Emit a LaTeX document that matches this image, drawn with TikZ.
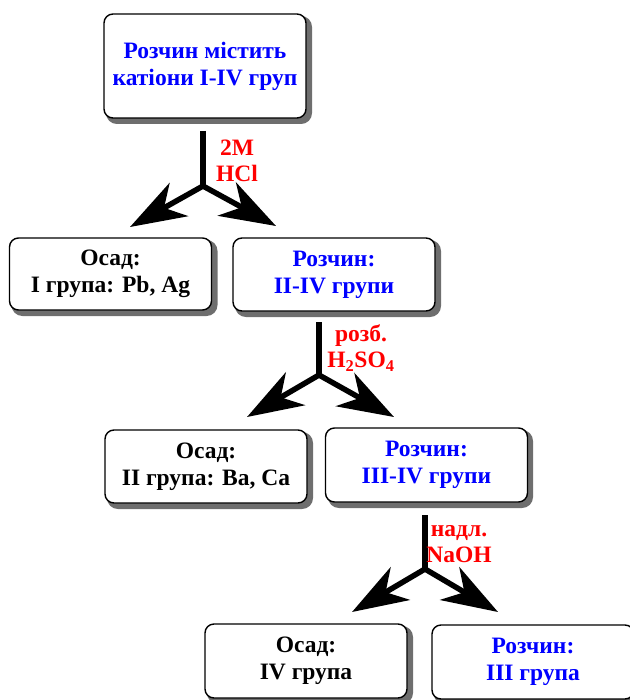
\documentclass[tikz,border=0pt]{standalone}
\usepackage{fontspec}
\setmainfont{Liberation Serif}
\usetikzlibrary{arrows.meta}
\definecolor{shadowgray}{RGB}{110,110,110}
\begin{document}
\begin{tikzpicture}[x=1pt,y=-1pt,
  box/.style={draw=black, line width=1.4pt, rounded corners=9pt, fill=white,
    minimum width=202pt, inner sep=0pt, align=center,
    font=\fontsize{23.5}{27}\selectfont\bfseries},
  sol/.style={box, text=blue},
  prec/.style={box, text=black},
  shadowbox/.style={line width=4pt, draw=shadowgray, fill=shadowgray, rounded corners=9pt},
  reag/.style={align=center, text=red, font=\fontsize{23.5}{26}\selectfont\bfseries, inner sep=0pt},
  shaft/.style={line width=5.5pt, draw=black},
  branch/.style={line width=5.5pt, draw=black, -{Stealth[length=56pt, width=38pt, inset=17pt]}}
]
\path[use as bounding box] (0,0) rectangle (629,700);

% shadows
\path[shadowbox] (108,18) rectangle (310,122);
\path[shadowbox] (13.5,242) rectangle (215.5,314);
\path[shadowbox] (237,242) rectangle (439,315);
\path[shadowbox] (109,434) rectangle (311,507);
\path[shadowbox] (330,432) rectangle (531,506);
\path[shadowbox] (209,628) rectangle (411,702);
\path[shadowbox] (436,629) rectangle (638,703);

% boxes
\node[sol, minimum height=104pt] (b1) at (205,66) {Розчин містить\\катіони I-IV груп};
\node[prec, minimum height=72pt] (b2) at (110.5,274) {Осад:\\I група: Pb, Ag};
\node[sol, minimum height=73pt] (b3) at (334,274.5) {Розчин:\\II-IV групи};
\node[prec, minimum height=73pt] (b4) at (206,466.5) {Осад:\\II група: Ba, Ca};
\node[sol, minimum height=74pt] (b5) at (426.5,465) {Розчин:\\III-IV групи};
\node[prec, minimum height=74pt] (b6) at (306,661) {Осад:\\IV група};
\node[sol, minimum height=74pt] (b7) at (533,662) {Розчин:\\III група};

% arrow 1
\coordinate (t1) at (203,131);
\coordinate (j1) at (203,186);
\coordinate (l1) at (130,227);
\coordinate (r1) at (276,226);
\draw[shaft] (t1) -- (j1);
\draw[branch] (j1) -- (l1);
\draw[branch] (j1) -- (r1);
\node[reag] (h1) at (237,161) {2M\\HCl};

% arrow 2
\coordinate (t2) at (319,322);
\coordinate (j2) at (319,375);
\coordinate (l2) at (247,417);
\coordinate (r2) at (394,417);
\draw[shaft] (t2) -- (j2);
\draw[branch] (j2) -- (l2);
\draw[branch] (j2) -- (r2);
\node[reag] (h2) at (361,348) {розб.\\H\textsubscript{2}SO\textsubscript{4}};

% arrow 3
\coordinate (t3) at (425,515);
\coordinate (j3) at (425,569);
\coordinate (l3) at (352,612);
\coordinate (r3) at (498,612);
\draw[shaft] (t3) -- (j3);
\draw[branch] (j3) -- (l3);
\draw[branch] (j3) -- (r3);
\node[reag] (h3) at (459,544) {надл.\\NaOH};
\end{tikzpicture}
\end{document}
